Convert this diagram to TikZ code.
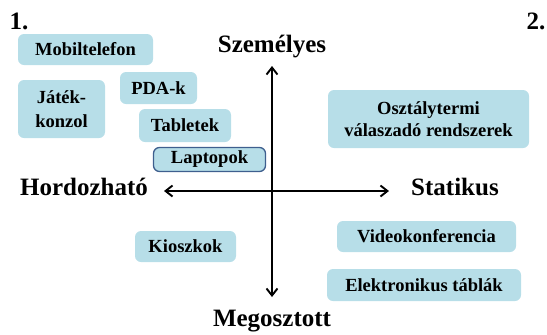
\documentclass[tikz,border=0pt]{standalone}
\usepackage{fontspec}
\setmainfont{Liberation Serif}
\usetikzlibrary{arrows.meta}
\definecolor{boxfill}{HTML}{B7DEE8}
\definecolor{boxedge}{HTML}{3E5F8E}
\tikzset{
  item/.style={fill=boxfill, rounded corners=6pt, inner sep=0pt, align=center,
    font=\fontsize{18.5}{22}\selectfont\bfseries},
  axislabel/.style={inner sep=0pt, font=\fontsize{25}{28}\selectfont\bfseries},
  axis/.style={line width=1.9pt, {Straight Barb[length=7pt,width=11pt]}-{Straight Barb[length=7pt,width=11pt]}},
}
\begin{document}
\begin{tikzpicture}[x=1pt,y=-1pt]
\useasboundingbox (0,0) rectangle (547,335);
% labels
\node[axislabel] (n1) at (19,21) {1.};
\node[axislabel] (n2) at (536,21) {2.};
\node[axislabel] (szem) at (272,47) {Személyes};
\node[axislabel] (hord) at (84,187) {Hordozható};
\node[axislabel] (stat) at (455,187) {Statikus};
\node[axislabel] (meg) at (272,321) {Megosztott};
% axes
\coordinate (top) at (272,66);
\coordinate (bot) at (272,297);
\coordinate (lft) at (164,191);
\coordinate (rgt) at (389,191);
\draw[axis] (top) -- (bot);
\draw[axis] (lft) -- (rgt);
% boxes
\node[item, minimum width=135pt, minimum height=31pt] (mob) at (85.5,49.5) {Mobiltelefon};
\node[item, minimum width=87pt, minimum height=58pt, font=\fontsize{18.5}{23.5}\selectfont\bfseries] (jat) at (61.5,109) {Játék-\\konzol};
\node[item, minimum width=77pt, minimum height=32pt] (pda) at (158.5,88) {PDA-k};
\node[item, minimum width=92pt, minimum height=33pt] (tab) at (185,125.5) {Tabletek};
\node[item, draw=boxedge, line width=1.3pt, minimum width=112pt, minimum height=24pt] (lap) at (209.5,159.5) {Laptopok};
\node[item, minimum width=101pt, minimum height=31pt] (kio) at (185.5,246.5) {Kioszkok};
\node[item, minimum width=201pt, minimum height=58pt] (oszt) at (428.5,119) {Osztálytermi\\válaszadó rendszerek};
\node[item, minimum width=179pt, minimum height=31pt] (vid) at (426.5,236.5) {Videokonferencia};
\node[item, minimum width=194pt, minimum height=32pt] (elek) at (424,285) {Elektronikus táblák};
\end{tikzpicture}
\end{document}
